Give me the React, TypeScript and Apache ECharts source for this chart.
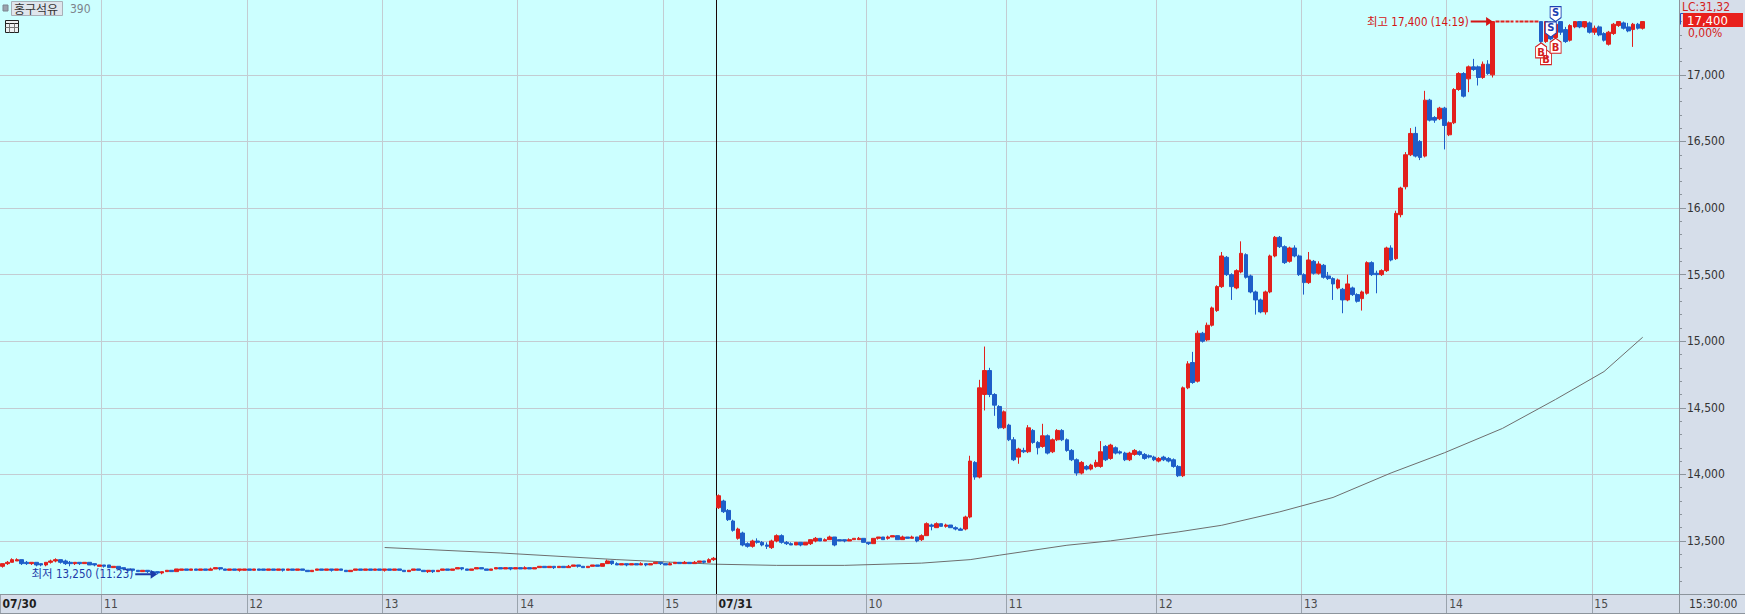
import React, { useEffect, useRef } from 'react';
import * as echarts from 'echarts';

const W = 1745;
const H = 614;

// ---- axis structure ----
const day1Date = '07/30';
const day2Date = '07/31';
// [hour, firstMinute, lastMinute, candleCount] (2-minute candles)
const day1Blocks = [[10, 18, 58, 21], [11, 0, 58, 30], [12, 0, 58, 28], [13, 0, 58, 28], [14, 0, 58, 30], [15, 0, 20, 11]];
const day2Blocks = [[9, 0, 59, 31], [10, 0, 58, 29], [11, 0, 59, 31], [12, 0, 58, 30], [13, 0, 58, 30], [14, 0, 58, 30], [15, 0, 20, 11]];
const padSlots = 7;
const yMajorTicks = [13500, 14000, 14500, 15000, 15500, 16000, 16500, 17000];
const yMin = 13102;
const yMax = 17562;

// ---- candles: [open, close, low, high] ----
const day1Candles = [
  [13310,13330,13300,13330],[13330,13340,13320,13350],[13340,13360,13340,13370],[13350,13360,13350,13370],[13360,13330,13320,13360],[13340,13330,13320,13350],[13330,13340,13320,13340],[13340,13320,13310,13340],[13330,13320,13310,13330],[13320,13340,13310,13340],
  [13340,13350,13330,13360],[13350,13360,13340,13370],[13360,13340,13330,13360],[13350,13330,13320,13360],[13340,13330,13310,13350],[13330,13340,13320,13340],[13340,13330,13320,13340],[13330,13340,13330,13340],[13340,13320,13320,13340],[13330,13320,13310,13330],
  [13310,13320,13310,13320],[13320,13310,13300,13320],[13320,13300,13300,13320],[13300,13310,13300,13310],[13310,13290,13290,13310],[13300,13290,13280,13300],[13290,13280,13280,13290],[13290,13280,13270,13290],[13280,13270,13270,13280],[13270,13280,13270,13280],
  [13280,13270,13260,13280],[13270,13260,13260,13270],[13270,13260,13250,13270],[13260,13270,13250,13270],[13270,13280,13270,13280],[13280,13270,13270,13280],[13270,13290,13270,13290],[13280,13290,13280,13290],[13290,13280,13280,13290],[13280,13290,13280,13290],
  [13290,13280,13280,13290],[13280,13290,13280,13290],[13290,13280,13280,13290],[13280,13290,13280,13300],[13290,13300,13290,13300],[13300,13290,13280,13300],[13290,13280,13280,13290],[13280,13290,13280,13290],[13290,13280,13280,13290],[13280,13290,13270,13290],
  [13280,13290,13280,13290],[13290,13280,13280,13290],[13280,13290,13280,13290],[13290,13280,13280,13290],[13290,13280,13280,13290],[13280,13290,13280,13290],[13290,13280,13280,13290],[13280,13290,13280,13290],[13290,13280,13270,13290],[13280,13290,13280,13290],
  [13290,13280,13280,13290],[13280,13290,13280,13290],[13290,13280,13280,13290],[13280,13270,13270,13280],[13270,13280,13270,13280],[13280,13290,13280,13290],[13290,13280,13280,13290],[13280,13290,13280,13290],[13290,13280,13270,13290],[13280,13290,13280,13290],
  [13290,13280,13280,13290],[13280,13270,13270,13280],[13270,13280,13270,13280],[13280,13290,13280,13290],[13290,13280,13280,13290],[13280,13290,13280,13290],[13290,13280,13280,13290],[13280,13290,13280,13290],[13290,13280,13280,13290],[13280,13290,13270,13290],
  [13290,13280,13280,13290],[13280,13290,13280,13290],[13290,13280,13280,13290],[13280,13270,13270,13280],[13270,13280,13270,13280],[13280,13290,13280,13290],[13290,13280,13280,13290],[13280,13270,13270,13280],[13270,13280,13260,13280],[13280,13270,13260,13280],
  [13270,13280,13270,13280],[13280,13290,13280,13290],[13290,13280,13280,13290],[13280,13290,13280,13290],[13290,13300,13290,13300],[13300,13290,13280,13300],[13290,13280,13280,13290],[13280,13290,13280,13290],[13290,13300,13290,13300],[13300,13290,13290,13300],
  [13290,13280,13280,13290],[13280,13290,13280,13290],[13290,13300,13290,13300],[13300,13290,13290,13300],[13290,13300,13290,13300],[13300,13290,13280,13300],[13290,13300,13290,13300],[13300,13290,13290,13300],[13290,13300,13290,13310],[13300,13290,13290,13300],
  [13290,13300,13290,13300],[13300,13310,13300,13310],[13310,13300,13300,13310],[13300,13310,13300,13310],[13310,13300,13290,13310],[13300,13310,13300,13310],[13310,13300,13300,13310],[13300,13310,13300,13320],[13310,13320,13310,13320],[13320,13310,13300,13320],
  [13310,13300,13300,13310],[13300,13310,13300,13310],[13310,13320,13310,13320],[13320,13310,13310,13320],[13310,13330,13310,13330],[13330,13350,13330,13360],[13350,13330,13320,13350],[13330,13320,13320,13340],[13320,13330,13320,13330],[13330,13320,13310,13330],
  [13320,13330,13320,13330],[13330,13320,13320,13330],[13320,13330,13320,13340],[13330,13320,13310,13330],[13320,13330,13320,13330],[13330,13340,13330,13340],[13340,13330,13320,13340],[13330,13320,13320,13330],[13320,13330,13320,13340],[13330,13340,13330,13340],
  [13340,13330,13330,13340],[13330,13340,13330,13350],[13340,13330,13330,13340],[13330,13340,13330,13350],[13340,13350,13340,13350],[13350,13340,13330,13350],[13340,13360,13340,13370],[13360,13370,13350,13380],
];

const day2Candles = [
  [13750,13840,13740,13850],[13800,13720,13710,13810],[13730,13660,13650,13740],[13650,13580,13570,13660],[13520,13590,13510,13600],[13560,13470,13460,13570],[13480,13460,13450,13490],[13460,13500,13450,13510],[13500,13490,13480,13520],[13490,13470,13460,13500],
  [13470,13460,13440,13490],[13450,13500,13440,13510],[13500,13540,13490,13550],[13540,13490,13480,13550],[13490,13480,13470,13500],[13480,13470,13470,13490],[13470,13490,13470,13490],[13490,13470,13460,13490],[13470,13490,13470,13490],[13480,13510,13470,13510],
  [13500,13520,13490,13530],[13520,13500,13500,13520],[13500,13510,13500,13520],[13510,13530,13510,13540],[13530,13470,13460,13530],[13510,13500,13500,13510],[13510,13500,13490,13510],[13500,13510,13500,13520],[13510,13520,13510,13520],[13510,13520,13510,13530],
  [13520,13490,13490,13520],[13490,13480,13470,13490],[13480,13520,13480,13520],[13520,13530,13510,13530],[13530,13510,13510,13530],[13520,13530,13510,13540],[13530,13540,13530,13540],[13540,13510,13510,13540],[13510,13530,13510,13540],[13530,13520,13520,13530],
  [13520,13530,13520,13540],[13530,13500,13490,13530],[13510,13540,13500,13550],[13540,13630,13540,13640],[13620,13610,13580,13630],[13600,13630,13600,13640],[13630,13610,13610,13630],[13610,13620,13600,13630],[13620,13600,13600,13620],[13600,13590,13580,13610],
  [13590,13580,13580,13600],[13590,13680,13580,13690],[13680,14100,13670,14140],[14090,13980,13960,14100],[13980,14650,13970,14710],[14600,14780,14480,14960],[14780,14600,14580,14800],[14600,14520,14440,14610],[14510,14350,14340,14520],[14350,14470,14340,14480],
  [14370,14260,14250,14380],[14260,14110,14100,14280],[14130,14190,14080,14200],[14180,14170,14160,14200],[14170,14350,14160,14370],[14330,14240,14230,14340],[14240,14200,14150,14250],[14210,14290,14200,14380],[14290,14160,14150,14300],[14170,14260,14160,14270],
  [14260,14330,14250,14340],[14330,14260,14250,14340],[14260,14180,14170,14270],[14180,14110,14100,14190],[14110,14010,13990,14120],[14010,14090,14000,14100],[14060,14040,14030,14070],[14040,14070,14030,14080],[14060,14090,14050,14110],[14060,14170,14050,14250],
  [14210,14110,14100,14220],[14120,14220,14110,14230],[14200,14160,14150,14210],[14170,14160,14150,14180],[14160,14110,14100,14170],[14110,14160,14100,14170],[14150,14180,14140,14190],[14170,14150,14140,14180],[14150,14120,14110,14160],[14140,14130,14120,14150],
  [14130,14110,14100,14140],[14100,14120,14090,14130],[14130,14110,14100,14140],[14120,14100,14090,14130],[14110,14060,14050,14120],[14060,13990,13980,14070],[13990,14650,13980,14660],[14650,14830,14640,14850],[14840,14690,14680,14920],[14700,15060,14690,15080],
  [15060,15000,14990,15070],[15010,15120,15000,15140],[15120,15250,15110,15260],[15230,15410,15220,15420],[15410,15640,15400,15670],[15630,15500,15490,15640],[15500,15410,15310,15510],[15400,15530,15390,15540],[15520,15660,15510,15750],[15650,15480,15470,15660],
  [15490,15370,15360,15500],[15370,15310,15200,15380],[15310,15220,15210,15320],[15220,15370,15200,15380],[15370,15640,15360,15650],[15640,15780,15630,15790],[15780,15710,15700,15790],[15710,15590,15580,15720],[15600,15700,15590,15710],[15700,15640,15630,15720],
  [15640,15500,15490,15650],[15500,15440,15350,15510],[15440,15610,15430,15670],[15600,15510,15500,15610],[15510,15580,15500,15600],[15570,15480,15470,15580],[15490,15470,15460,15520],[15470,15430,15310,15480],[15400,15460,15390,15470],[15390,15310,15210,15400],
  [15310,15430,15300,15500],[15400,15350,15340,15410],[15350,15300,15290,15360],[15320,15370,15230,15380],[15360,15590,15350,15600],[15590,15500,15490,15600],[15510,15500,15360,15530],[15500,15530,15490,15540],[15530,15700,15520,15710],[15700,15610,15600,15720],
  [15620,15960,15610,15980],[15950,16150,15930,16160],[16160,16400,16140,16420],[16400,16560,16390,16600],[16560,16390,16380,16610],[16500,16380,16360,16510],[16390,16810,16380,16880],[16810,16660,16650,16820],[16680,16660,16640,16690],[16670,16750,16660,16760],
  [16750,16620,16440,16760],[16550,16640,16540,16650],[16640,16890,16630,16900],[16890,17010,16880,17020],[17010,16840,16830,17020],[16970,17060,16870,17070],[17060,17040,17030,17120],[17060,16980,16920,17070],[16980,17080,16970,17100],[17080,17010,17000,17110],
  [17000,17400,16980,17400],[17400,17400,17400,17400],[17400,17400,17400,17400],[17400,17400,17400,17400],[17400,17400,17400,17400],[17400,17400,17400,17400],[17400,17400,17400,17400],[17400,17400,17400,17400],[17400,17400,17400,17400],[17400,17400,17400,17400],
  [17400,17250,17240,17400],[17250,17400,17240,17400],[17350,17270,17260,17400],[17280,17380,17270,17390],[17400,17320,17300,17400],[17340,17250,17240,17360],[17260,17370,17250,17380],[17360,17400,17350,17400],[17400,17360,17350,17400],[17360,17400,17350,17400],
  [17390,17320,17310,17400],[17320,17350,17300,17370],[17360,17300,17290,17370],[17310,17260,17250,17320],[17230,17320,17220,17330],[17310,17380,17300,17390],[17370,17400,17360,17400],[17390,17350,17340,17400],[17360,17330,17320,17390],[17340,17380,17210,17390],
  [17380,17350,17340,17390],[17350,17400,17340,17400],
];

// moving average: [slot index, value]
const maPoints = [
  [79,13451],[103,13410],[127,13360],[147,13326],[160,13317],[174,13317],[190,13334],[200,13360],[206,13393],
  [220,13468],[229,13501],[243,13568],[252,13618],[264,13719],[275,13827],[287,14011],[298,14162],[310,14345],
  [321,14563],[331,14772],[339,15030],
];

// trade markers: [slot index, price]
const sellMarks = [[320,17285],[321,17400]];
const buyMarks = [[319,17190],[318,17240],[321,17275]];
const lowMark = { idx: 32, value: 13250, label: '최저 13,250 (11:23)' };
const highMark = { idx: 308, value: 17400, label: '최고 17,400 (14:19)' };
const lastPrice = '17,400';

// ---- build categories ----
const cats: string[] = [];
const labelAt: Record<number, string> = {};
const p2 = (n: number) => String(n).padStart(2, '0');
function addDay(date: string, blocks: number[][]) {
  blocks.forEach(([h, m0, m1, n], bi) => {
    labelAt[cats.length] = bi === 0 ? `{d|${date}}` : String(h);
    for (let k = 0; k < n; k++) {
      const m = m0 + Math.round((k * (m1 - m0)) / (n - 1));
      cats.push(`${date} ${p2(h)}:${p2(m)}`);
    }
  });
}
addDay(day1Date, day1Blocks);
const day2Start = cats.length;
addDay(day2Date, day2Blocks);
for (let i = 0; i < padSlots; i++) cats.push(`${day2Date} 15:${p2(22 + 2 * i)}`);

const RED = '#e2201c';
const BLUE = '#1e5ec8';
const GRID = '#c3ccd2';
const AXIS = '#8c949c';
const FONT = "'DejaVu Sans Condensed', 'Noto Sans CJK KR', sans-serif";

// flat (open = close = high = low) candles are drawn as a bolder red tick, as in the HTS chart
const candles = [...day1Candles, ...day2Candles].map((c) =>
  c[0] === c[1] && c[2] === c[3]
    ? { value: c, itemStyle: { borderColor: RED, borderColor0: RED, borderColorDoji: RED, borderWidth: 2, color: RED, color0: RED } }
    : c
);
const yMinorTicks: number[] = [];
for (let v = 13200; v <= 17500; v += 100) if (v % 500 !== 0) yMinorTicks.push(v);

const isBoundary = (i: number) => labelAt[i] !== undefined;

const ARROW = 'path://M0,3.9L14,3.9L14,0L20,5L14,10L14,6.1L0,6.1Z';
const PIN_DOWN = 'path://M0,0L10,0L10,11L5,15L0,11Z';
const PIN_UP = 'path://M5,0L10,4L10,15L0,15L0,4Z';

function buildOption(): any {
  return {
    animation: false,
    backgroundColor: '#d6deea',
    grid: { left: 0, right: 66, top: 0, bottom: 20, show: true, backgroundColor: '#ccffff', borderWidth: 0, outerBoundsMode: 'none' },
    xAxis: [
      {
        type: 'category', data: cats, boundaryGap: true, position: 'bottom',
        axisLine: { show: true, lineStyle: { color: AXIS } },
        axisTick: { show: true, interval: (i: number) => isBoundary(i), length: 19, lineStyle: { color: '#9aa3ad' } },
        axisLabel: {
          show: true, interval: (i: number) => isBoundary(i),
          formatter: (_v: string, i: number) => labelAt[i] ?? '',
          align: 'left', margin: 4, color: '#4a4a4a', fontSize: 12, fontFamily: FONT,
          rich: { d: { fontWeight: 'bold', color: '#1e1e1e', fontSize: 12, fontFamily: FONT } },
        },
        splitLine: { show: true, interval: (i: number) => isBoundary(i) && i !== 0 && i !== day2Start, lineStyle: { color: GRID } },
      },
    ],
    yAxis: [
      {
        type: 'value', position: 'right', min: yMin, max: yMax,
        axisLine: { show: true, lineStyle: { color: AXIS } },
        axisTick: { show: true, customValues: yMajorTicks, length: 7, lineStyle: { color: AXIS } },
        axisLabel: {
          show: true, customValues: yMajorTicks, margin: 8, color: '#333', fontSize: 12, fontFamily: FONT,
          formatter: (v: number) => v.toLocaleString('en-US'),
        },
        splitLine: { show: true, lineStyle: { color: GRID } },
      },
      {
        type: 'value', position: 'right', min: yMin, max: yMax,
        axisLine: { show: false },
        axisTick: { show: true, customValues: yMinorTicks, length: 3, lineStyle: { color: AXIS } },
        axisLabel: { show: false }, splitLine: { show: false },
      },
    ],
    series: [
      {
        type: 'line', xAxisIndex: 0, yAxisIndex: 0, data: maPoints, symbol: 'none', showSymbol: false,
        connectNulls: true, lineStyle: { color: '#6e6e6e', width: 1 }, silent: true, z: 1,
      },
      {
        // day separator drawn at the category boundary through the axis scale
        type: 'custom', xAxisIndex: 0, yAxisIndex: 0, data: [[day2Start, yMax]], silent: true, z: 3,
        renderItem: (params: any, api: any) => {
          const cx = api.coord([api.value(0), api.value(1)])[0];
          const half = api.size([1, 0])[0] / 2;
          const x = Math.round(cx - half) + 0.5;
          const cs = params.coordSys;
          return {
            type: 'line',
            shape: { x1: x, y1: cs.y, x2: x, y2: cs.y + cs.height },
            style: { stroke: '#1a0606', lineWidth: 1 },
          };
        },
      },
      {
        type: 'candlestick', xAxisIndex: 0, yAxisIndex: 0, data: candles, barWidth: 4.2, z: 4,
        itemStyle: { color: RED, color0: BLUE, borderColor: RED, borderColor0: BLUE, borderColorDoji: RED, borderWidth: 1 },
        markPoint: {
          silent: true, symbol: ARROW, symbolSize: [22, 9], symbolKeepAspect: false,
          data: [
            {
              coord: [cats[lowMark.idx], lowMark.value], symbolOffset: [-11, 0], itemStyle: { color: '#1c3aa9' },
              label: { show: true, position: 'left', distance: 2, formatter: lowMark.label, color: '#1c3aa9', fontSize: 11.5, fontFamily: FONT },
            },
            {
              coord: [cats[highMark.idx], highMark.value], symbolOffset: [-11, 0], itemStyle: { color: '#d41414' },
              label: { show: true, position: 'left', distance: 2, formatter: highMark.label, color: '#d41414', fontSize: 11.5, fontFamily: FONT },
            },
          ],
        },
      },
      {
        type: 'scatter', xAxisIndex: 0, yAxisIndex: 0, data: buyMarks, symbol: PIN_UP, symbolSize: [11, 15],
        symbolKeepAspect: false, symbolOffset: [0, 7.5], silent: true, z: 5,
        itemStyle: { color: '#ffffff', borderColor: '#d42020', borderWidth: 1, opacity: 1 },
        label: { show: true, position: 'inside', offset: [0, 2], formatter: 'B', color: '#d42020', fontSize: 10, fontWeight: 'bold', fontFamily: 'DejaVu Sans' },
      },
      {
        type: 'scatter', xAxisIndex: 0, yAxisIndex: 0, data: sellMarks, symbol: PIN_DOWN, symbolSize: [11, 15],
        symbolKeepAspect: false, symbolOffset: [0, -7.5], silent: true, z: 6,
        itemStyle: { color: '#ffffff', borderColor: '#1d3fb3', borderWidth: 1, opacity: 1 },
        label: { show: true, position: 'inside', offset: [0, -2], formatter: 'S', color: '#1d3fb3', fontSize: 10, fontWeight: 'bold', fontFamily: 'DejaVu Sans' },
      },
    ],
    graphic: [
      // top-left title block
      { type: 'rect', z: 100, shape: { x: 3, y: 5, width: 5, height: 6 }, style: { fill: '#9aa3ad', stroke: '#7d8590', lineWidth: 1 } },
      { type: 'rect', z: 100, shape: { x: 11.5, y: 1.5, width: 51, height: 14 }, style: { fill: '#dfe5ec', stroke: '#a9b0b8', lineWidth: 1 } },
      { type: 'text', z: 101, x: 14, y: 8.5, style: { text: '홍구석유', fill: '#333', font: "12px 'Noto Sans CJK KR'", verticalAlign: 'middle' } },
      { type: 'text', z: 101, x: 70, y: 8.5, style: { text: '390', fill: '#7d848c', font: `12px ${FONT}`, verticalAlign: 'middle' } },
      { type: 'rect', z: 100, shape: { x: 5.5, y: 20.5, width: 13, height: 12 }, style: { fill: '#eef0f2', stroke: '#222', lineWidth: 1 } },
      { type: 'line', z: 101, shape: { x1: 5.5, y1: 23.5, x2: 18.5, y2: 23.5 }, style: { stroke: '#222', lineWidth: 1 } },
      { type: 'line', z: 101, shape: { x1: 5.5, y1: 27.5, x2: 18.5, y2: 27.5 }, style: { stroke: '#777', lineWidth: 1 } },
      { type: 'line', z: 101, shape: { x1: 9.5, y1: 23.5, x2: 9.5, y2: 32.5 }, style: { stroke: '#777', lineWidth: 1 } },
      { type: 'line', z: 101, shape: { x1: 14.5, y1: 23.5, x2: 14.5, y2: 32.5 }, style: { stroke: '#777', lineWidth: 1 } },
      // right-side price block
      { type: 'text', z: 101, x: 1682, y: 6.5, style: { text: 'LC:31,32', fill: '#d42020', font: `12px ${FONT}`, verticalAlign: 'middle' } },
      { type: 'rect', z: 100, shape: { x: 1683, y: 13, width: 60, height: 14 }, style: { fill: '#e8201c' } },
      { type: 'text', z: 101, x: 1687, y: 20.5, style: { text: lastPrice, fill: '#ffffff', font: `13px ${FONT}`, verticalAlign: 'middle' } },
      { type: 'text', z: 101, x: 1688, y: 32.5, style: { text: '0,00%', fill: '#d42020', font: `12px ${FONT}`, verticalAlign: 'middle' } },
      { type: 'polyline', z: 101, shape: { points: [[1683, 13.5], [1680.5, 13.5], [1680.5, 24.5]] }, style: { stroke: '#2050c0', lineWidth: 1, fill: 'none' } },
      // bottom band frame
      { type: 'line', z: 100, shape: { x1: 0, y1: 594.5, x2: W, y2: 594.5 }, style: { stroke: AXIS, lineWidth: 1 } },
      { type: 'line', z: 100, shape: { x1: 1679.5, y1: 594, x2: 1679.5, y2: H }, style: { stroke: AXIS, lineWidth: 1 } },
      { type: 'line', z: 100, shape: { x1: 0, y1: 613.5, x2: W, y2: 613.5 }, style: { stroke: AXIS, lineWidth: 1 } },
      { type: 'text', z: 101, x: 1689, y: 604, style: { text: '15:30:00', fill: '#333', font: `12px ${FONT}`, verticalAlign: 'middle' } },
    ],
  };
}

export default function App() {
  const ref = useRef<HTMLDivElement>(null);
  useEffect(() => {
    const chart = echarts.init(ref.current as HTMLDivElement, null, { renderer: 'svg', width: W, height: H });
    chart.setOption(buildOption());
    return () => chart.dispose();
  }, []);
  return <div ref={ref} style={{ position: 'fixed', left: 0, top: 0, width: W, height: H }} />;
}
